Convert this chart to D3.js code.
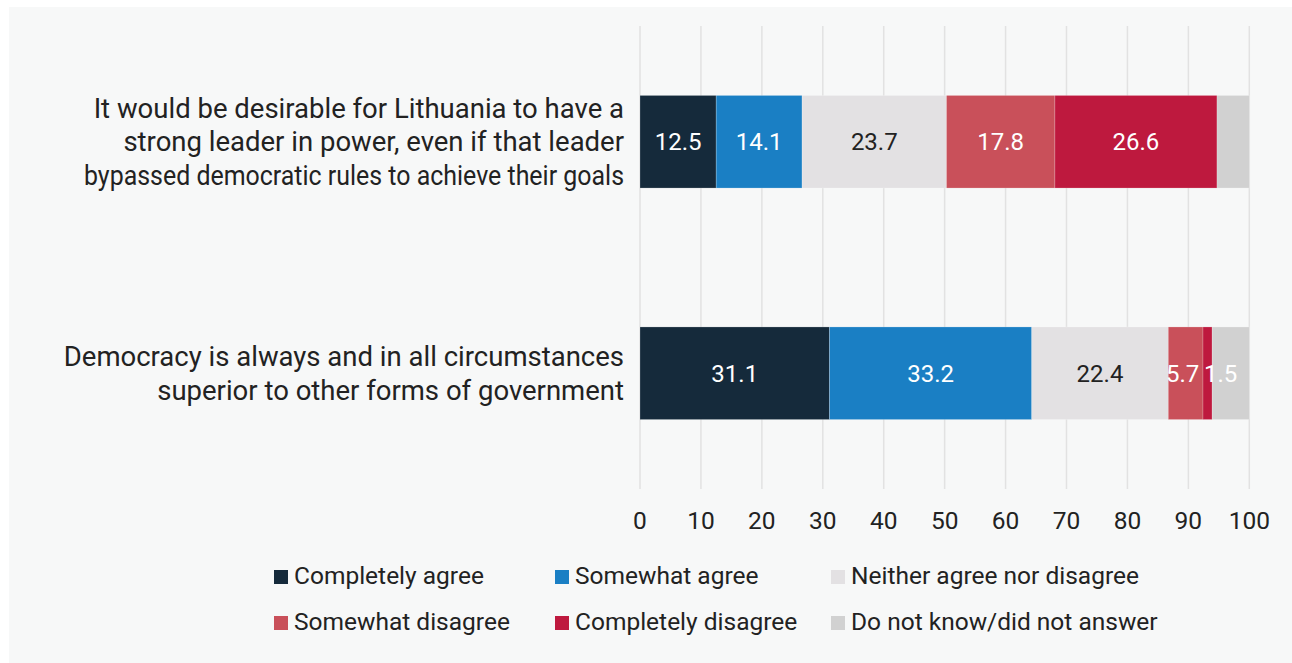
<!DOCTYPE html>
<html>
<head>
<meta charset="utf-8">
<script src="https://cdn.jsdelivr.net/npm/d3@7"></script>
<style>
  html, body { margin: 0; padding: 0; background: #ffffff; }
  svg { display: block; font-family: Roboto, "Noto Sans", sans-serif; }
</style>
</head>
<body>
<svg id="chart" width="1292" height="663"></svg>
<script>
// Survey statements (one stacked bar each), split over lines
const statements = [
  ["It would be desirable for Lithuania to have a",
   "strong leader in power, even if that leader",
   "bypassed democratic rules to achieve their goals"],
  ["Democracy is always and in all circumstances",
   "superior to other forms of government"]
];

// Answer categories, in stacking order
const answers = [
  "Completely agree",
  "Somewhat agree",
  "Neither agree nor disagree",
  "Somewhat disagree",
  "Completely disagree",
  "Do not know/did not answer"
];
const answerColors = ["#152a3b", "#1a7fc4", "#e3e1e3", "#c9505a", "#be193e", "#d1d1d1"];
const labelColors  = ["#ffffff", "#ffffff", "#222222", "#ffffff", "#ffffff", "#222222"];

// Shares (%) per statement, one array per answer category
const completelyAgree    = [12.5, 31.1];
const somewhatAgree      = [14.1, 33.2];
const neither            = [23.7, 22.4];
const somewhatDisagree   = [17.8, 5.7];
const completelyDisagree = [26.6, 1.5];
const dontKnow           = [5.3, 6.1];
// Whether the share is printed on its segment
const showLabel = [true, true, true, true, true, false];

const xTicks = [0, 10, 20, 30, 40, 50, 60, 70, 80, 90, 100];

const series = [completelyAgree, somewhatAgree, neither, somewhatDisagree, completelyDisagree, dontKnow];

const svg = d3.select("#chart");
const W = 1292, H = 663;

// Panel background
svg.append("rect")
  .attr("x", 9).attr("y", 7)
  .attr("width", W - 9).attr("height", H - 7)
  .attr("fill", "#f7f8f8");

const x = d3.scaleLinear().domain([0, 100]).range([640, 1249.3]);
const y = d3.scaleBand()
  .domain(d3.range(statements.length))
  .range([26, 489])
  .paddingInner(0.6)
  .paddingOuter(0.3);

// Vertical grid lines
svg.append("g")
  .selectAll("line")
  .data(xTicks)
  .join("line")
  .attr("x1", d => x(d)).attr("x2", d => x(d))
  .attr("y1", 26).attr("y2", 489)
  .attr("stroke", "#e2e2e2")
  .attr("stroke-width", 1.5);

// Stack the categories
const rows = statements.map((s, i) => {
  const r = { idx: i };
  answers.forEach((a, j) => { r[a] = series[j][i]; });
  return r;
});
const stacked = d3.stack().keys(answers)(rows);

const layers = svg.append("g")
  .selectAll("g")
  .data(stacked)
  .join("g")
  .attr("fill", (d, j) => answerColors[j]);

layers.selectAll("rect")
  .data(d => d)
  .join("rect")
  .attr("x", d => x(d[0]))
  .attr("y", d => y(d.data.idx))
  .attr("width", d => x(d[1]) - x(d[0]))
  .attr("height", y.bandwidth())
  .attr("stroke", "rgba(255,255,255,0.35)")
  .attr("stroke-width", 0.6);

// Value labels on segments
stacked.forEach((layer, j) => {
  if (!showLabel[j]) return;
  svg.append("g")
    .selectAll("text")
    .data(layer)
    .join("text")
    .each(function (d) {
      const w = x(d[1]) - x(d[0]);
      const narrow = w < 20;
      d3.select(this)
        .attr("x", narrow ? x(d[0]) + 1 : (x(d[0]) + x(d[1])) / 2 - (w < 45 ? 3 : 0))
        .attr("text-anchor", narrow ? "start" : "middle");
    })
    .attr("y", d => y(d.data.idx) + y.bandwidth() / 2)
    .attr("dy", "0.35em")
    .attr("fill", labelColors[j])
    .attr("font-size", 24)
    .text(d => d3.format(".1f")(d[1] - d[0]));
});

// Category labels (right aligned, multi-line); long lines are squeezed to fit
const lineH = 33.5;
const labelRight = 624;
const labelMaxWidth = 562;
statements.forEach((lines, i) => {
  const cy = y(i) + y.bandwidth() / 2;
  const t = svg.append("text")
    .attr("text-anchor", "end")
    .attr("fill", "#222222")
    .attr("font-size", 27.5);
  lines.forEach((ln, k) => {
    const span = t.append("tspan")
      .attr("x", labelRight)
      .attr("y", cy + (k - (lines.length - 1) / 2) * lineH)
      .attr("dy", "0.35em")
      .text(ln);
    const len = span.node().getComputedTextLength();
    if (len > labelMaxWidth) {
      span.attr("textLength", 540).attr("lengthAdjust", "spacingAndGlyphs");
    }
  });
});

// X axis tick labels
svg.append("g")
  .selectAll("text")
  .data(xTicks)
  .join("text")
  .attr("x", d => x(d))
  .attr("y", 529)
  .attr("text-anchor", "middle")
  .attr("fill", "#222222")
  .attr("font-size", 24.5)
  .text(d => d);

// Legend, three columns by two rows
const legendCols = [274, 555, 831];
const legendRows = [584, 630];
const legend = svg.append("g")
  .selectAll("g")
  .data(answers)
  .join("g")
  .attr("transform", (d, i) => `translate(${legendCols[i % 3]},${legendRows[Math.floor(i / 3)]})`);
legend.append("rect")
  .attr("x", 0).attr("y", -14)
  .attr("width", 14).attr("height", 14)
  .attr("fill", (d, i) => answerColors[i]);
legend.append("text")
  .attr("x", 20)
  .attr("y", 0)
  .attr("fill", "#222222")
  .attr("font-size", 24.5)
  .text(d => d);
</script>
</body>
</html>
